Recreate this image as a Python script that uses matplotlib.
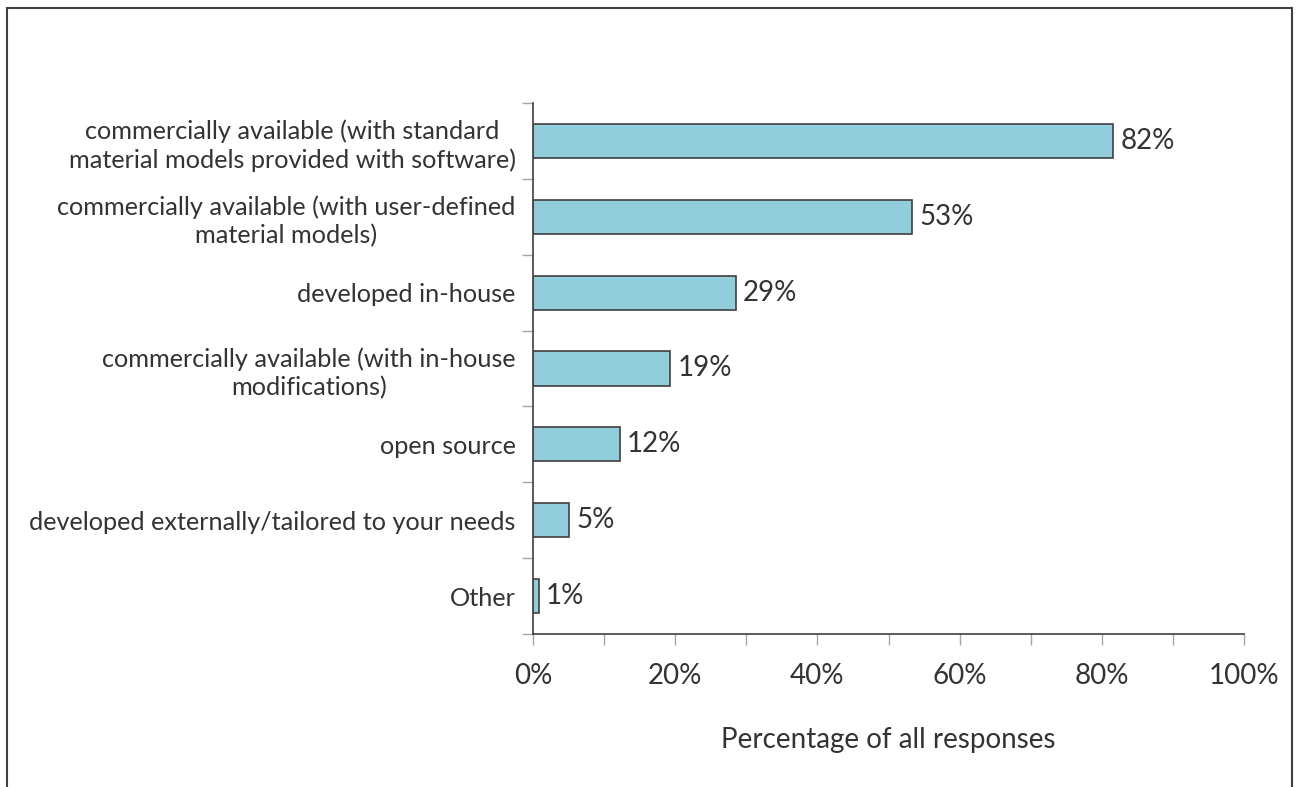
import numpy as np
import matplotlib.pyplot as plt
from matplotlib.patches import Rectangle

plt.rcParams['font.family'] = ['Lato', 'DejaVu Sans']

categories = ['commercially available (with standard\nmaterial models provided with software)',
              'commercially available (with user-defined\nmaterial models)',
              'developed in-house',
              'commercially available (with in-house\nmodifications)',
              'open source',
              'developed externally/tailored to your needs',
              'Other']
values = [81.6, 53.3, 28.5, 19.3, 12.2, 5.1, 0.8]
labels = ['82%', '53%', '29%', '19%', '12%', '5%', '1%']
ticks = [0, 20, 40, 60, 80, 100]
tick_labels = ['0%', '20%', '40%', '60%', '80%', '100%']

fig = plt.figure(figsize=(13, 7.87), dpi=100)
ax = fig.add_axes([533/1300, 1-634/787, 711/1300, 531/787])

y = np.arange(len(categories))
ax.barh(y, values, height=0.45, color='#92cddc', edgecolor='#404040', linewidth=1.2)
for yi, v, lab in zip(y, values, labels):
    ax.text(v + 1.0, yi, lab, va='center', ha='left', fontsize=20, color='#333333')

ax.set_ylim(len(categories) - 0.5, -0.5)
ax.set_xlim(0, 100)
ax.set_yticks(y)
ax.set_yticklabels(categories, fontsize=18.2, color='#333333', multialignment='center',
                   linespacing=1.27)
ax.set_yticks(np.arange(-0.5, len(categories)), minor=True)
ax.tick_params(axis='y', which='major', length=0, pad=12.5)
ax.tick_params(axis='y', which='minor', length=8, color='#a6a6a6', width=1)

ax.set_xticks(ticks)
ax.set_xticklabels(tick_labels, fontsize=20, color='#333333')
ax.set_xticks(np.arange(10, 100, 20), minor=True)
ax.tick_params(axis='x', which='both', length=8, color='#a6a6a6', width=1, pad=13)
ax.set_xlabel('Percentage of all responses', fontsize=20, color='#333333', labelpad=27)

for s in ['top', 'right']:
    ax.spines[s].set_visible(False)
for s in ['left', 'bottom']:
    ax.spines[s].set_color('#404040')
    ax.spines[s].set_linewidth(1.2)

# outer frame
fig.patches.append(Rectangle((7/1300, -0.05), 1285/1300, 1.05 - 8/787, transform=fig.transFigure,
                             fill=False, edgecolor='#404040', linewidth=1.5))

fig.savefig('out.png', dpi=100)
